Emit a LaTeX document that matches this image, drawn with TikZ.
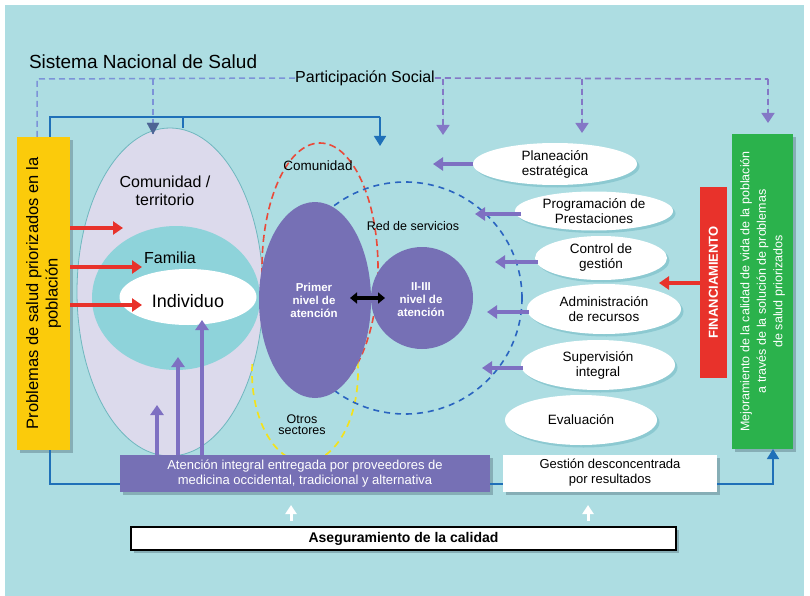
\documentclass[tikz,border=0pt]{standalone}
\usepackage{fontspec}
\setmainfont{Liberation Sans}
\usetikzlibrary{arrows.meta,shapes.geometric,shadows}
\definecolor{bgc}{HTML}{ADDDE2}
\definecolor{lavc}{HTML}{DCDAEC}
\definecolor{lavedge}{HTML}{6FB7BF}
\definecolor{tealc}{HTML}{8ED3DA}
\definecolor{purc}{HTML}{7670B5}
\definecolor{purarrc}{HTML}{7E70C2}
\definecolor{yelc}{HTML}{FBCB0B}
\definecolor{grnc}{HTML}{2BB24C}
\definecolor{redc}{HTML}{E8322B}
\definecolor{bluec}{HTML}{1F70B8}
\definecolor{dashbluec}{HTML}{7C93D8}
\definecolor{slatec}{HTML}{4D6595}
\definecolor{dashpurc}{HTML}{8478C6}
\definecolor{reddashc}{HTML}{EA4A3A}
\definecolor{yeldashc}{HTML}{F3E21C}
\definecolor{bluedashc}{HTML}{2A64C0}
\definecolor{shc}{HTML}{86AEB6}
\definecolor{pshc}{HTML}{8CC9D1}
\begin{document}
\begin{tikzpicture}[x=1pt,y=-1pt,
  every node/.style={inner sep=0pt, outer sep=0pt},
  lbl/.style={align=center, font=\fontsize{13.5}{15}\selectfont},
  boxshadow/.style={drop shadow={shadow xshift=3pt, shadow yshift=-3pt, fill=shc, opacity=1}},
  rbox/.style={rectangle, boxshadow},
  pill/.style={ellipse, fill=white, drop shadow={shadow xshift=2.5pt, shadow yshift=-2.5pt, fill=pshc, opacity=1}},
  redarr/.style={draw=redc, line width=4pt, -{Triangle[width=13pt,length=10pt]}},
  purarr/.style={draw=purarrc, line width=4pt, -{Triangle[width=13pt,length=10pt]}},
  dashl/.style={draw=dashbluec, line width=1.5pt, dash pattern=on 6pt off 4pt},
  dashp/.style={draw=dashpurc, line width=1.6pt, dash pattern=on 6pt off 4pt},
  ptip/.style={-{Triangle[width=13pt,length=10pt]}},
  blueline/.style={draw=bluec, line width=1.6pt}
]
\useasboundingbox (0,0) rectangle (810,596);
\fill[white] (0,0) rectangle (810,596);
\fill[bgc] (5,5) rectangle (804,596);

% ---- left ellipses ----
\node[ellipse, fill=lavc, draw=lavedge, line width=0.8pt, minimum width=186pt, minimum height=328pt] (lav) at (170,292) {};
\node[ellipse, fill=tealc, minimum width=168pt, minimum height=144pt] (fam) at (176,298) {};
\node[ellipse, fill=white, minimum width=137pt, minimum height=56pt] (ind) at (188,297) {};
\node[lbl, font=\fontsize{16}{17.5}\selectfont] (tcom) at (165,191) {Comunidad /\\territorio};
\node[lbl, font=\fontsize{16}{17}\selectfont] (tfam) at (170,258) {Familia};
\node[lbl, font=\fontsize{18}{19}\selectfont] (tind) at (188,301) {Individuo};

% ---- dashed ellipses ----
\draw[draw=reddashc, line width=1.6pt, dash pattern=on 7pt off 4pt] (320,268) ellipse [x radius=58pt, y radius=125pt];
\draw[draw=yeldashc, line width=1.7pt, dash pattern=on 7pt off 5pt] (252.2,364.2) arc[start angle=175, end angle=372, x radius=53pt, y radius=90pt];
\draw[draw=bluedashc, line width=1.6pt, dash pattern=on 6pt off 5pt] (405,298) ellipse [x radius=117pt, y radius=116pt];
\node[lbl, font=\fontsize{13.5}{15}\selectfont] (tcomr) at (318,166) {Comunidad};
\node[lbl, font=\fontsize{12.5}{14}\selectfont] (tred) at (413,226) {Red de servicios};
\node[lbl, font=\fontsize{12.5}{11}\selectfont] (totr) at (302,425) {Otros\\sectores};

% ---- attention levels ----
\node[ellipse, fill=purc, minimum width=112pt, minimum height=196pt] (pri) at (315,300) {};
\node[circle, fill=purc, minimum size=102pt] (sec) at (422,298) {};
\node[lbl, text=white, font=\bfseries\fontsize{11.5}{13}\selectfont] (tpri) at (314,300) {Primer\\nivel de\\atención};
\node[lbl, text=white, font=\bfseries\fontsize{11.5}{13}\selectfont] (tsec) at (421,300) {II-III\\nivel de\\atención};
\coordinate (da) at (350,298);
\coordinate (db) at (385,298);
\draw[black, line width=3.5pt, {Triangle[width=11pt,length=7pt]}-{Triangle[width=11pt,length=7pt]}] (da) -- (db);

% ---- yellow box ----
\node[rbox, fill=yelc, minimum width=53pt, minimum height=313pt] (yb) at (43.5,293.5) {};
\node[lbl, rotate=90, font=\fontsize{16.5}{19.5}\selectfont] (tyb) at (yb) {Problemas de salud priorizados en la\\población};

% ---- titles ----
\node[lbl, anchor=west, font=\fontsize{19}{20}\selectfont] (sns) at (29,62) {Sistema Nacional de Salud};
\node[lbl, font=\fontsize{16}{17}\selectfont] (ps) at (365,78) {Participación Social};

% ---- dashed participation lines ----
\coordinate (d0) at (37,79);
\coordinate (d1) at (153,79);
\coordinate (d1e) at (153,134);
\draw[dashl] (d0 |- yb.north) -- (d0) -- (ps.west);
\draw[dashl] (d1) -- (d1e);
\draw[draw=slatec, fill=slatec] (d1e) -- ++(-6,-11) -- ++(12,0) -- cycle;
\coordinate (p0) at (443,79);
\coordinate (p1) at (582,79);
\coordinate (p2) at (768,79);
\coordinate (p0e) at (443,135);
\coordinate (p1e) at (582,133);
\coordinate (p2e) at (768,123);
\draw[dashp] (ps.east) -- (p2);
\draw[dashp, ptip, draw=dashpurc, fill=dashpurc] (p0) -- (p0e);
\draw[dashp, ptip, draw=dashpurc, fill=dashpurc] (p1) -- (p1e);
\draw[dashp, ptip, draw=dashpurc, fill=dashpurc] (p2) -- (p2e);

% ---- blue solid top ----
\coordinate (b0) at (50,117);
\coordinate (b1) at (183,117);
\coordinate (b2) at (380,117);
\coordinate (b2e) at (380,146);
\draw[blueline] (b0 |- yb.north) -- (b0) -- (b2);
\draw[blueline] (b1) -- (b1 |- lav.north);
\draw[blueline, -{Triangle[width=12pt,length=10pt]}] (b2) -- (b2e);

% ---- red arrows ----
\coordinate (r1) at (123,228);
\coordinate (r2) at (142,267);
\coordinate (r3) at (142,305);
\draw[redarr] (r1 -| yb.east) -- (r1);
\draw[redarr] (r2 -| yb.east) -- (r2);
\draw[redarr] (r3 -| yb.east) -- (r3);

% ---- bottom boxes ----
\node[rbox, fill=purc, minimum width=370pt, minimum height=37pt] (pb) at (305,473.5) {};
\node[lbl, text=white, font=\fontsize{13}{15}\selectfont] (tpb) at (pb) {Atención integral entregada por proveedores de\\medicina occidental, tradicional y alternativa};
\node[rbox, fill=white, minimum width=214pt, minimum height=37pt] (gw) at (610,473.5) {};
\node[lbl, font=\fontsize{13}{15}\selectfont] (tgw) at (610,473) {Gestión desconcentrada\\por resultados};
\node[rbox, fill=white, draw=black, line width=1.5pt, minimum width=545pt, minimum height=23pt] (ac) at (403.5,538.5) {};
\node[lbl, font=\bfseries\fontsize{14}{15}\selectfont] (tac) at (ac) {Aseguramiento de la calidad};

% ---- purple up arrows ----
\coordinate (u1) at (157,405);
\coordinate (u2) at (178,357);
\coordinate (u3) at (202,320);
\draw[purarr] (u1 |- pb.north) -- (u1);
\draw[purarr] (u2 |- pb.north) -- (u2);
\draw[purarr] (u3 |- pb.north) -- (u3);

% ---- white up arrows ----
\coordinate (w1a) at (291,521);
\coordinate (w1b) at (291,505);
\coordinate (w2a) at (588,521);
\coordinate (w2b) at (588,505);
\draw[white, line width=3pt, -{Triangle[width=11pt,length=9pt]}] (w1a) -- (w1b);
\draw[white, line width=3pt, -{Triangle[width=11pt,length=9pt]}] (w2a) -- (w2b);

% ---- right boxes ----
\node[rbox, fill=grnc, minimum width=61pt, minimum height=315pt] (gb) at (762.5,291.5) {};
\node[lbl, rotate=90, text=white, font=\fontsize{12.5}{16.5}\selectfont] (tgb) at (gb) {Mejoramiento de la calidad de vida de la población\\a través de la solución de problemas\\de salud priorizados};
\node[rectangle, fill=redc, minimum width=27pt, minimum height=191pt] (fin) at (713.5,282.5) {};
\node[lbl, rotate=90, text=white, font=\bfseries\fontsize{13}{14}\selectfont] (tfin) at (fin) {FINANCIAMIENTO};
\coordinate (f1) at (659,283);
\draw[redarr] (f1 -| fin.west) -- (f1);

% ---- bottom blue line ----
\coordinate (c0) at (50,484);
\coordinate (c1) at (773,484);
\draw[blueline] (c0 |- yb.south) -- (c0) -- (c0 -| pb.west);
\draw[blueline] (c0 -| pb.east) -- (c0 -| gw.west);
\draw[blueline, -{Triangle[width=12pt,length=10pt]}] (c1 -| gw.east) -- (c1) -- (c1 |- gb.south);

% ---- management ellipses ----
\node[pill, minimum width=164pt, minimum height=42pt] (e1) at (555,164) {};
\node[pill, minimum width=158pt, minimum height=39pt] (e2) at (594,211) {};
\node[pill, minimum width=132pt, minimum height=44pt] (e3) at (601,258) {};
\node[pill, minimum width=154pt, minimum height=50pt] (e4) at (604,309) {};
\node[pill, minimum width=154pt, minimum height=50pt] (e5) at (598,365) {};
\node[pill, minimum width=152pt, minimum height=50pt] (e6) at (581,420) {};
\node[lbl] (te1) at (e1) {Planeación\\estratégica};
\node[lbl] (te2) at (e2) {Programación de\\Prestaciones};
\node[lbl] (te3) at (e3) {Control de\\gestión};
\node[lbl] (te4) at (e4) {Administración\\de recursos};
\node[lbl] (te5) at (e5) {Supervisión\\integral};
\node[lbl] (te6) at (e6) {Evaluación};
\coordinate (l1) at (433,164);
\coordinate (l2) at (475,214);
\coordinate (l3) at (495,262);
\coordinate (l4) at (487,312);
\coordinate (l5) at (482,368);
\draw[purarr] (l1 -| e1.west) -- (l1);
\draw[purarr] (e2.west |- l2) ++(6,0) -- (l2);
\draw[purarr] (e3.west |- l3) ++(3,0) -- (l3);
\draw[purarr] (e4.west |- l4) ++(2,0) -- (l4);
\draw[purarr] (e5.west |- l5) ++(2,0) -- (l5);
\end{tikzpicture}
\end{document}
